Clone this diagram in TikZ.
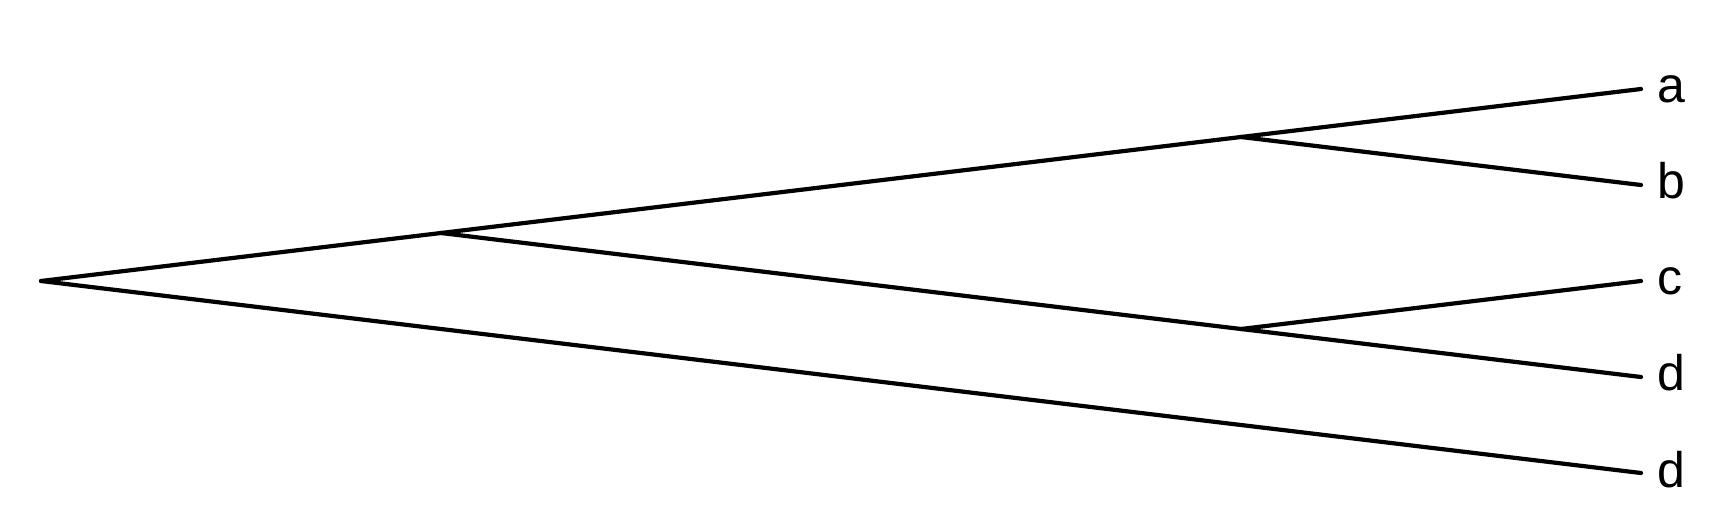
\documentclass[tikz,border=0pt]{standalone}
\usepackage{fontspec}
\setmainfont{Liberation Sans}
\begin{document}
\begin{tikzpicture}[x=1pt,y=-1pt,
  branch/.style={line width=4.2pt,line cap=round,line join=round},
  leaflabel/.style={anchor=base west,inner sep=0pt,font=\fontsize{50}{60}\selectfont}]
\useasboundingbox (0,0) rectangle (1725,529);
\coordinate (root) at (41,281);
\coordinate (n1) at (441,233);
\coordinate (n2) at (1241,137);
\coordinate (n3) at (1241,329);
\coordinate (a) at (1641,89);
\coordinate (b) at (1641,185);
\coordinate (c) at (1641,281);
\coordinate (d1) at (1641,377);
\coordinate (d2) at (1641,473);
\draw[branch] (root) -- (n1);
\draw[branch] (root) -- (d2);
\draw[branch] (n1) -- (n2);
\draw[branch] (n1) -- (n3);
\draw[branch] (n2) -- (a);
\draw[branch] (n2) -- (b);
\draw[branch] (n3) -- (c);
\draw[branch] (n3) -- (d1);
\node[leaflabel] (la) at (1657,103) {a};
\node[leaflabel] (lb) at (1657,199) {b};
\node[leaflabel] (lc) at (1657,295) {c};
\node[leaflabel] (ld1) at (1657,391) {d};
\node[leaflabel] (ld2) at (1657,487) {d};
\end{tikzpicture}
\end{document}
